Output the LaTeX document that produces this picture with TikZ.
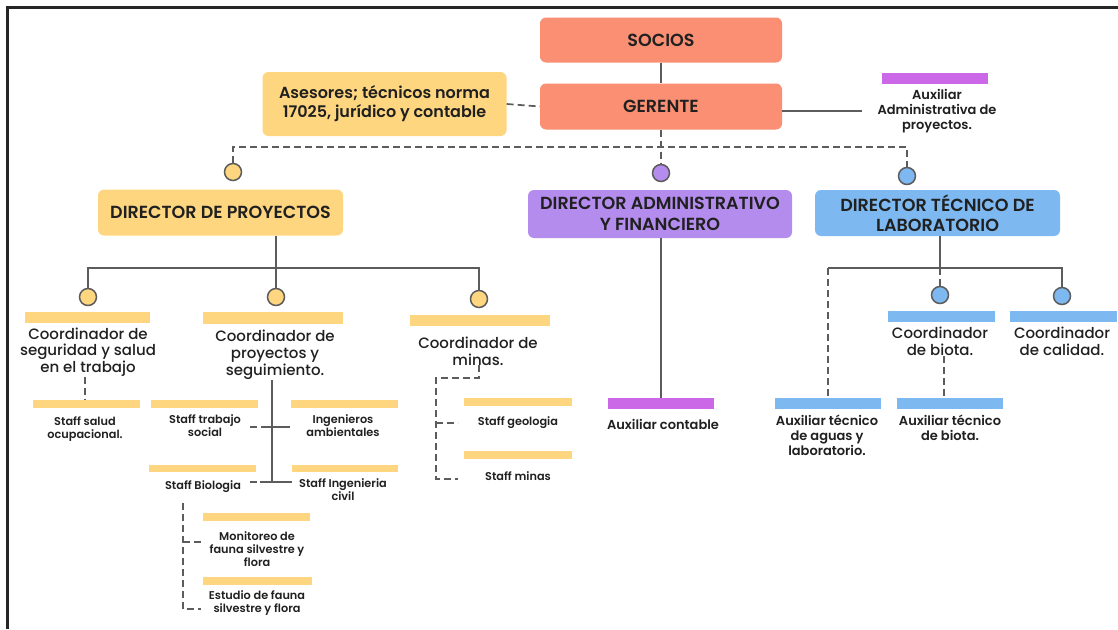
\documentclass[tikz,border=0pt]{standalone}
\usepackage{fontspec}
\setmainfont{Poppins}[UprightFont={* Medium},BoldFont={* SemiBold}]
\definecolor{salmon}{RGB}{250,143,115}
\definecolor{yel}{RGB}{255,214,128}
\definecolor{lav}{RGB}{180,140,238}
\definecolor{mag}{RGB}{203,104,232}
\definecolor{sky}{RGB}{125,184,240}
\definecolor{linec}{RGB}{92,92,92}
\definecolor{txt}{RGB}{32,32,32}
\newcommand\ttlfont{\bfseries\fontsize{17.5}{20.5}\selectfont}
\newcommand\coofont{\fontsize{15}{16.8}\selectfont}
\newcommand\auxfont{\bfseries\fontsize{13}{15}\selectfont}
\newcommand\stffont{\bfseries\fontsize{11.3}{13}\selectfont}
\tikzset{
  box/.style={rectangle, rounded corners=6, draw=none, text=txt, align=center, font=\ttlfont, inner sep=0},
  bar/.style={rectangle, draw=none, inner sep=0},
  lbl/.style={text=txt, align=center, inner sep=0},
  dot/.style={circle, draw=linec, line width=1.5, minimum size=17, inner sep=0},
  conn/.style={draw=linec, line width=1.7},
  dconn/.style={conn, dash pattern=on 7 off 4},
}
\begin{document}
\begin{tikzpicture}[x=1pt,y=-1pt]
\useasboundingbox (0,0) rectangle (1118,629);
\fill[white] (0,0) rectangle (1118,629);
\draw[line width=3, black!85] (7,629) -- (7,7) -- (1118,7);

% top
\node[box, fill=salmon, minimum width=242, minimum height=45] (socios) at (661,40) {SOCIOS};
\node[box, fill=salmon, minimum width=242, minimum height=46] (gerente) at (661,106.5) {GERENTE};
\node[box, fill=yel, minimum width=244, minimum height=64, font=\bfseries\fontsize{16}{19}\selectfont] (asesores) at (384.5,104) {Asesores; técnicos norma\\17025, jurídico y contable};
\node[bar, fill=mag, minimum width=106, minimum height=11] (auxadmbar) at (935,78.5) {};
\node[lbl, font=\auxfont] (auxadm) at (937,111) {Auxiliar\\Administrativa de\\proyectos.};

\draw[conn] (socios.south) -- (gerente.north);
\draw[dconn] (asesores.east) -- (gerente.west);
\coordinate (auxadmin) at (862,111);
\draw[conn] (gerente.east |- auxadmin) -- (auxadmin);

% directors
\node[dot, fill=yel] (cdp) at (233,172) {};
\node[dot, fill=lav] (cda) at (661,173) {};
\node[dot, fill=sky] (cdt) at (907,176) {};
\node[box, fill=yel, minimum width=245, minimum height=46] (dp) at (220.5,212.5) {DIRECTOR DE PROYECTOS};
\node[box, fill=lav, minimum width=264, minimum height=48] (da) at (660,214) {DIRECTOR ADMINISTRATIVO\\Y FINANCIERO};
\node[box, fill=sky, minimum width=245, minimum height=46] (dt) at (937.5,213) {DIRECTOR TÉCNICO DE\\LABORATORIO};

\coordinate (hd) at (661,147);
\draw[dconn] (cdp.north) |- (hd) -| (cdt.north);
\draw[dconn] (gerente.south) -- (cda.north);

% director de proyectos children
\node[dot, fill=yel] (cp1) at (88,297) {};
\node[dot, fill=yel] (cp2) at (276,297) {};
\node[dot, fill=yel] (cp3) at (479,299) {};
\coordinate (hp) at (276,268);
\draw[conn] (dp.south -| cp2) -- (cp2.north);
\draw[conn] (cp1.north) |- (hp) -| (cp3.north);

\node[bar, fill=yel, minimum width=125, minimum height=11] (b1) at (87.5,317.5) {};
\node[bar, fill=yel, minimum width=140, minimum height=12] (b2) at (273,318) {};
\node[bar, fill=yel, minimum width=140, minimum height=11] (b3) at (480,320.5) {};
\node[lbl, font=\coofont] (t1) at (88,352) {Coordinador de\\seguridad y salud\\en el trabajo};
\node[lbl, font=\coofont] (t2) at (275,355) {Coordinador de\\proyectos y\\seguimiento.};
\node[lbl, font=\coofont] (t3) at (478,351) {Coordinador de\\minas.};

% seguridad
\node[bar, fill=yel, minimum width=107, minimum height=8] (s1) at (86.5,404) {};
\node[lbl, font=\stffont] (s1t) at (85,429) {Staff salud\\ocupacional.};
\draw[dconn] (t1.south -| s1t) -- (s1.north -| s1t);

% proyectos y seguimiento
\node[bar, fill=yel, minimum width=107, minimum height=8] (s2) at (204.5,404) {};
\node[lbl, font=\stffont] (s2t) at (205,426) {Staff trabajo\\social};
\node[bar, fill=yel, minimum width=107, minimum height=8] (s3) at (344.5,404) {};
\node[lbl, font=\stffont] (s3t) at (343,426) {Ingenieros\\ambientales};
\node[bar, fill=yel, minimum width=107, minimum height=7] (s4) at (202.5,468.5) {};
\node[lbl, font=\stffont] (s4t) at (203,487) {Staff Biologia};
\node[bar, fill=yel, minimum width=106, minimum height=7] (s5) at (345,468.5) {};
\node[lbl, font=\stffont] (s5t) at (343,490) {Staff Ingenieria\\civil};

\coordinate (pv) at (272,482);
\draw[conn] (t2.south -| pv) -- (pv);
\coordinate (h1a) at (250,427);
\coordinate (h1m) at (262,427);
\coordinate (h1b) at (290,427);
\draw[dconn] (h1a) -- (h1m);
\draw[conn] (h1m) -- (h1b);
\coordinate (h2a) at (250,482);
\coordinate (h2m) at (260,482);
\coordinate (h2b) at (292,482);
\draw[dconn] (h2a) -- (h2m);
\draw[conn] (h2m) -- (h2b);

% biologia
\node[bar, fill=yel, minimum width=107, minimum height=8] (m1) at (256.5,517) {};
\node[lbl, font=\stffont] (m1t) at (257,549.5) {Monitoreo de\\fauna silvestre y\\flora};
\node[bar, fill=yel, minimum width=109, minimum height=8] (m2) at (257.5,581) {};
\node[lbl, font=\stffont] (m2t) at (257,603.5) {Estudio de fauna\\silvestre y flora};
\coordinate (bv) at (183,503);
\coordinate (bm) at (203,542);
\coordinate (be) at (201,609);
\draw[dconn] (bv) |- (be);
\draw[dconn] (bv |- bm) -- (bm);

% minas
\node[bar, fill=yel, minimum width=108, minimum height=8] (g1) at (518,402) {};
\node[lbl, font=\stffont] (g1t) at (518,423) {Staff geologia};
\node[bar, fill=yel, minimum width=108, minimum height=8] (g2) at (518,455) {};
\node[lbl, font=\stffont] (g2t) at (518,476) {Staff minas};
\coordinate (mv) at (436,378);
\coordinate (mg) at (458,423);
\coordinate (mm) at (458,479);
\draw[dconn] (t3.south -| cp3) |- (mv) |- (mm);
\draw[dconn] (mv |- mg) -- (mg);

% administrativo
\node[bar, fill=mag, minimum width=106, minimum height=11] (ac) at (661,403.5) {};
\node[lbl, font=\auxfont] (act) at (663,424) {Auxiliar contable};
\draw[conn] (da.south -| ac) -- (ac.north);

% tecnico
\node[dot, fill=sky] (cb) at (940,295) {};
\node[dot, fill=sky] (cc) at (1062,296) {};
\coordinate (ht) at (940,268);
\coordinate (hl) at (828,268);
\draw[conn] (dt.south -| ht) -- (ht);
\draw[dconn] (ht) -- (cb.north);
\draw[conn] (hl) -- (ht) -| (cc.north);
\node[bar, fill=sky, minimum width=107, minimum height=11] (bb) at (941.5,316.5) {};
\node[bar, fill=sky, minimum width=107, minimum height=11] (bc) at (1063.5,316.5) {};
\node[lbl, font=\coofont] (bbt) at (940,341.5) {Coordinador\\de biota.};
\node[lbl, font=\coofont] (bct) at (1062,341.5) {Coordinador\\de calidad.};
\node[bar, fill=sky, minimum width=106, minimum height=11] (aa) at (828,403.5) {};
\node[bar, fill=sky, minimum width=106, minimum height=11] (ab) at (950,403.5) {};
\node[lbl, font=\auxfont] (aat) at (827,435) {Auxiliar técnico\\de aguas y\\laboratorio.};
\node[lbl, font=\auxfont] (abt) at (950,427.5) {Auxiliar técnico\\de biota.};
\draw[dconn] (hl) -- (aa.north -| hl);
\coordinate (bbx) at (944,0);
\draw[dconn] (bbt.south -| bbx) -- (ab.north -| bbx);
\end{tikzpicture}
\end{document}
